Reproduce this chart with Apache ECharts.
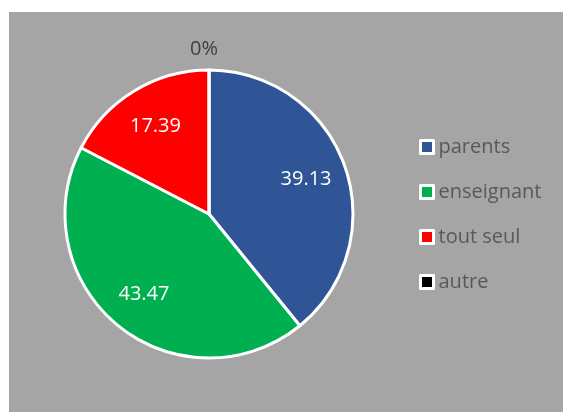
<!DOCTYPE html>
<html>
<head>
<meta charset="utf-8">
<script src="https://cdn.jsdelivr.net/npm/echarts@6/dist/echarts.min.js"></script>
<style>
    html, body { margin: 0; padding: 0; background: #ffffff; }
    #chart { width: 563px; height: 412px; }
</style>
</head>
<body>
<div id="chart"></div>
<script>
    // données
    var categories = ['parents', 'enseignant', 'tout seul', 'autre'];
    var values = [39.13, 43.47, 17.39, 0];
    var colors = ['#2f5597', '#00b050', '#ff0000', '#000000'];

    var chart = echarts.init(document.getElementById('chart'));

    var pieData = categories.map(function (name, i) {
        return { name: name, value: values[i], itemStyle: { color: colors[i] } };
    });

    // labels du second cercle (transparent) pour placer les valeurs comme Excel
    var labelData = categories.map(function (name, i) {
        var item = { name: name, value: values[i] };
        if (values[i] === 0) {
            item.label = {
                position: 'outside',
                formatter: '{c}%',
                color: '#404040'
            };
        }
        return item;
    });

    var option = {
        backgroundColor: '#ffffff',
        textStyle: { fontFamily: 'Open Sans' },
        graphic: [{
            type: 'rect',
            z: -10,
            shape: { x: 9, y: 12, width: 554, height: 400 },
            style: { fill: '#a5a5a5' },
            silent: true
        }],
        legend: {
            orient: 'vertical',
            left: 414,
            top: 132,
            icon: 'rect',
            itemWidth: 13,
            itemHeight: 13,
            itemGap: 25,
            data: categories,
            itemStyle: { borderColor: '#ffffff', borderWidth: 3 },
            textStyle: { color: '#595959', fontSize: 20, lineHeight: 20 },
            selectedMode: false
        },
        series: [{
            type: 'pie',
            center: [209, 214],
            radius: [0, 144],
            startAngle: 90,
            clockwise: true,
            silent: true,
            avoidLabelOverlap: false,
            itemStyle: { borderColor: '#ffffff', borderWidth: 3 },
            label: { show: false },
            labelLine: { show: false },
            data: pieData
        }, {
            type: 'pie',
            center: [209, 214],
            radius: [56, 144],
            startAngle: 90,
            clockwise: true,
            silent: true,
            avoidLabelOverlap: false,
            legendHoverLink: false,
            itemStyle: { color: 'transparent', borderWidth: 0 },
            label: {
                show: true,
                position: 'inside',
                formatter: '{c}',
                color: '#ffffff',
                fontSize: 20
            },
            labelLine: { show: false, length: 21, length2: 0 },
            labelLayout: function (params) {
                if (values[params.dataIndex] === 0) {
                    return { align: 'center' };
                }
            },
            data: labelData
        }]
    };
    chart.setOption(option);
</script>
</body>
</html>
